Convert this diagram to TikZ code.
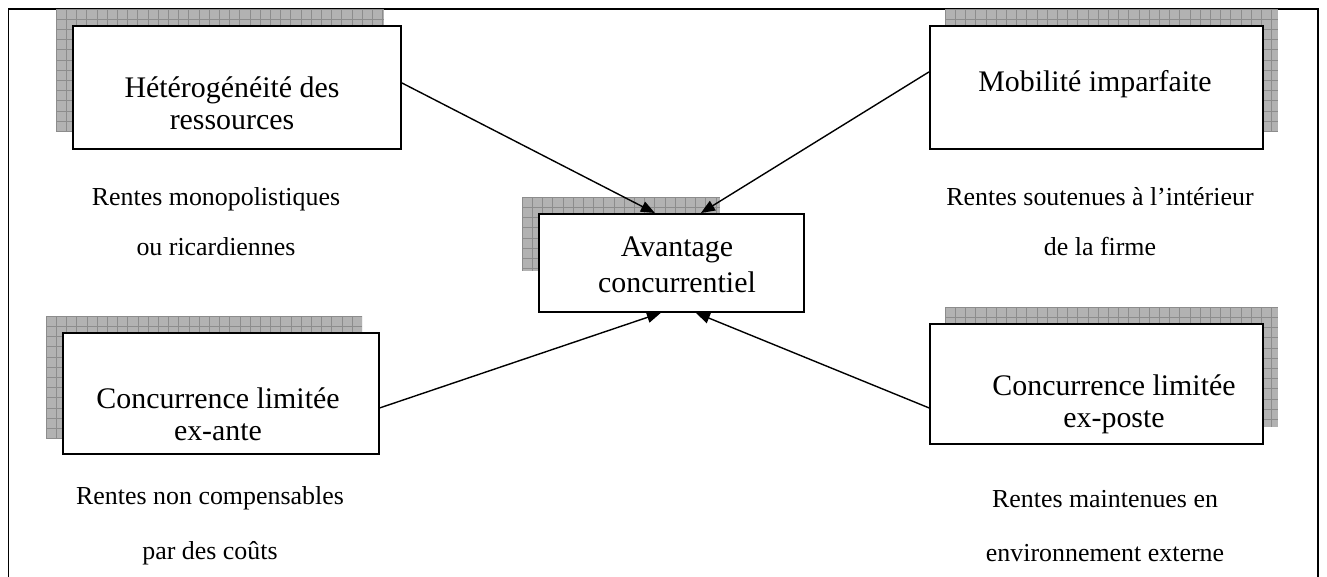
\documentclass[tikz,border=0pt]{standalone}
\usepackage{fontspec}
\setmainfont{Liberation Serif}
\usetikzlibrary{arrows.meta}
\newcommand{\shadowrect}[4]{%
  \begin{scope}
    \clip (#1,#2) rectangle (#3,#4);
    \fill[shadowfill] (#1,#2) rectangle (#3,#4);
    \foreach \k in {0,...,34} {\draw[shadowline] ({#1+\k*10.2},#2) -- ({#1+\k*10.2},#4);}
    \foreach \k in {0,...,13} {\draw[shadowline] (#1,{#2+\k*10.2}) -- (#3,{#2+\k*10.2});}
  \end{scope}}
\tikzset{
  shadowfill/.style={fill=black!30},
  shadowline/.style={draw=black!45, line width=0.6bp},
  frameline/.style={line width=1.5bp},
  box/.style={draw, line width=1.8bp, fill=white, inner sep=0pt, anchor=north west},
  conn/.style={line width=1.4bp, -{Triangle[length=14bp,width=11bp]}},
  boxtext/.style={align=center, inner sep=0pt, font=\fontsize{30}{32}\selectfont},
  centertext/.style={align=center, inner sep=0pt, font=\fontsize{30}{36}\selectfont},
  renttext/.style={align=center, inner sep=0pt, font=\fontsize{26}{50}\selectfont},
  renttextb/.style={align=center, inner sep=0pt, font=\fontsize{26}{55}\selectfont},
}
\begin{document}
\begin{tikzpicture}[x=1bp, y=-1bp]
\useasboundingbox (0,0) rectangle (1327,577);
% outer frame (open at the bottom)
\draw[frameline] (8.5,577) -- (8.5,9) -- (1318,9) -- (1318,577);
% shadows
\shadowrect{56}{9}{384}{132}
\shadowrect{945}{9}{1278}{132}
\shadowrect{46}{316}{362}{438}
\shadowrect{945}{307}{1278}{427}
\shadowrect{522}{197}{720}{271}
% boxes
\node[box, minimum width=328bp, minimum height=123bp] (b1) at (72,25) {};
\node[box, minimum width=333bp, minimum height=123bp] (b2) at (929,25) {};
\node[box, minimum width=265bp, minimum height=98bp] (cc) at (538,213) {};
\node[box, minimum width=316bp, minimum height=121bp] (b3) at (62,332) {};
\node[box, minimum width=333bp, minimum height=120bp] (b4) at (929,323) {};
% box texts
\node[boxtext] (t1) at (232,103) {Hétérogénéité des\\ressources};
\node[boxtext] (t2) at (1095,84) {Mobilité imparfaite};
\node[centertext] (tc) at (677,265) {Avantage\\concurrentiel};
\node[boxtext] (t3) at (218,414) {Concurrence limitée\\ex-ante};
\node[boxtext] (t4) at (1114,404) {Concurrence limitée\\ex-poste};
% connectors
\draw[conn] ([yshift=4.5bp]b1.east) -- ([xshift=-16.5bp]cc.north);
\draw[conn] ([yshift=15.5bp]b2.west) -- ([xshift=29.5bp]cc.north);
\draw[conn] ([yshift=-14.5bp]b3.east) -- ([xshift=-10.5bp]cc.south);
\draw[conn] ([yshift=-24bp]b4.west) -- ([xshift=24.5bp]cc.south);
% rent texts
\node[renttext] (r1) at (216,222) {Rentes monopolistiques\\ou ricardiennes};
\node[renttext] (r2) at (1100,222) {Rentes soutenues à l’intérieur\\de la firme};
\node[renttextb] (r3) at (210,526) {Rentes non compensables\\par des coûts};
\node[renttextb] (r4) at (1105,526) {Rentes maintenues en\\environnement externe};
\end{tikzpicture}
\end{document}
